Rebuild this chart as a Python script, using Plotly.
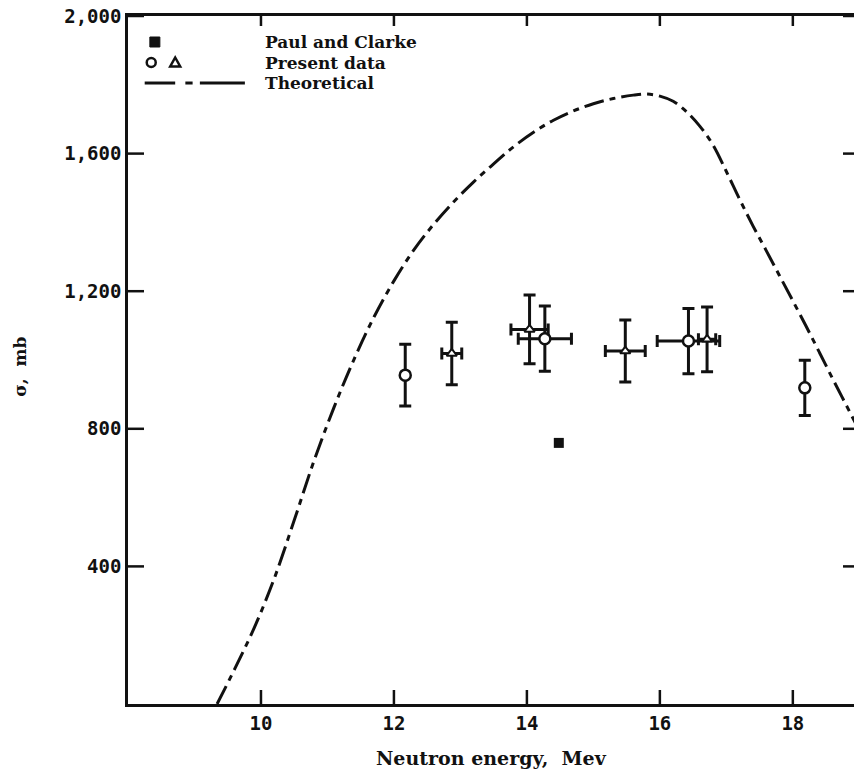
import plotly.graph_objects as go

# ---- data ----
theory_x = [9.34, 9.6, 9.9, 10.2, 10.5, 10.8, 11.1, 11.4, 11.7, 12.0, 12.3, 12.6, 12.9,
            13.2, 13.5, 13.8, 14.1, 14.4, 14.7, 15.0, 15.3, 15.6, 15.8, 16.0, 16.2, 16.4,
            16.6, 16.8, 17.0, 17.2, 17.4, 17.6, 17.8, 18.0, 18.2, 18.4, 18.6, 18.8, 19.0]
theory_y = [0, 100, 222, 365, 534, 708, 863, 1002, 1125, 1230, 1320, 1395, 1460,
            1518, 1570, 1620, 1662, 1697, 1724, 1745, 1760, 1770, 1773, 1767, 1752, 1722,
            1680, 1625, 1548, 1467, 1390, 1318, 1245, 1172, 1098, 1022, 945, 870, 795]

circle_x = [12.17, 14.27, 16.43, 18.18]
circle_y = [956, 1062, 1055, 919]
circle_yerr = [90, 95, 95, 80]
circle_xerr = [0, 0.40, 0.47, 0]

tri_x = [12.87, 14.04, 15.48, 16.71]
tri_y = [1019, 1089, 1026, 1060]
tri_yerr = [91, 100, 90, 94]
tri_xerr = [0.15, 0.28, 0.30, 0.13]

pc_x = [14.48]
pc_y = [759]

x_ticks = [10, 12, 14, 16, 18]
y_ticks = [400, 800, 1200, 1600, 2000]
y_ticktext = ["400", "800", "1,200", "1,600", "2,000"]

legend_labels = ["Paul and Clarke", "Present data", "Theoretical"]

FONT = "DejaVu Serif"
TICKFONT = "DejaVu Sans Mono"
BLACK = "#111111"

fig = go.Figure()

fig.add_trace(go.Scatter(
    x=theory_x, y=theory_y, mode="lines",
    line=dict(color=BLACK, width=3, dash="20px,6px,6px,6px", shape="spline", smoothing=1.0),
    showlegend=False, hoverinfo="skip"))

fig.add_trace(go.Scatter(
    x=circle_x, y=circle_y, mode="markers",
    marker=dict(symbol="circle", size=11, color="white", line=dict(color=BLACK, width=2.5)),
    error_y=dict(type="data", array=circle_yerr, color=BLACK, thickness=3, width=6),
    error_x=dict(type="data", array=circle_xerr, color=BLACK, thickness=3, width=6),
    showlegend=False))

fig.add_trace(go.Scatter(
    x=tri_x, y=tri_y, mode="markers",
    marker=dict(symbol="triangle-up", size=9, color="white", line=dict(color=BLACK, width=2)),
    error_y=dict(type="data", array=tri_yerr, color=BLACK, thickness=3, width=6),
    error_x=dict(type="data", array=tri_xerr, color=BLACK, thickness=3, width=6),
    showlegend=False))

fig.add_trace(go.Scatter(
    x=pc_x, y=pc_y, mode="markers",
    marker=dict(symbol="square", size=10, color=BLACK),
    showlegend=False))

tickfont = dict(family=TICKFONT, size=19, color=BLACK, weight="bold")

fig.update_layout(
    width=854, height=775,
    margin=dict(l=128, r=0, t=16, b=71),
    paper_bgcolor="white", plot_bgcolor="white",
    showlegend=False,
    xaxis=dict(range=[8, 18.92], tickmode="array", tickvals=x_ticks, ticks="",
               showline=True, linewidth=2.5, linecolor=BLACK, mirror=True,
               showgrid=False, zeroline=False, tickfont=tickfont),
    yaxis=dict(range=[0, 2000], tickmode="array", tickvals=y_ticks, ticktext=y_ticktext,
               ticks="", showline=True, linewidth=2.5, linecolor=BLACK, mirror=False,
               showgrid=False, zeroline=False, tickfont=tickfont),
)

# inward tick marks, placed at the axis tick values
for v in x_ticks:
    fig.add_shape(type="line", xref="x", yref="paper", ysizemode="pixel", yanchor=0,
                  x0=v, x1=v, y0=0, y1=14, line=dict(color=BLACK, width=2.5))
    fig.add_shape(type="line", xref="x", yref="paper", ysizemode="pixel", yanchor=1,
                  x0=v, x1=v, y0=0, y1=-10, line=dict(color=BLACK, width=2.5))
for v in y_ticks:
    fig.add_shape(type="line", xref="paper", yref="y", xsizemode="pixel", xanchor=0,
                  x0=0, x1=16, y0=v, y1=v, line=dict(color=BLACK, width=2.5))
    fig.add_shape(type="line", xref="paper", yref="y", xsizemode="pixel", xanchor=1,
                  x0=-11, x1=0, y0=v, y1=v, line=dict(color=BLACK, width=2.5))

# axis titles
fig.add_annotation(text="Neutron energy,  Mev", xref="paper", yref="paper", x=0.5, y=-0.078,
                   xanchor="center", yanchor="middle", showarrow=False,
                   font=dict(family=FONT, size=19, color=BLACK, weight="bold"))
fig.add_annotation(text="σ,  mb", xref="paper", yref="paper", x=-0.149, y=0.49,
                   xanchor="center", yanchor="middle", textangle=-90, showarrow=False,
                   font=dict(family=FONT, size=17, color=BLACK, weight="bold"))

# legend (drawn manually, paper coordinates)
leg_y = [0.9622, 0.9324, 0.9026]
for lab, yy in zip(legend_labels, leg_y):
    fig.add_annotation(text=lab, xref="paper", yref="paper", x=0.186, y=yy,
                       xanchor="left", yanchor="middle", showarrow=False,
                       font=dict(family=FONT, size=17, color=BLACK, weight="bold"))

fig.add_shape(type="rect", xref="paper", yref="paper", xsizemode="pixel", ysizemode="pixel",
              xanchor=0.037, yanchor=leg_y[0], x0=-5, x1=5, y0=-5, y1=5,
              fillcolor=BLACK, line=dict(color=BLACK, width=1))
fig.add_shape(type="circle", xref="paper", yref="paper", xsizemode="pixel", ysizemode="pixel",
              xanchor=0.032, yanchor=leg_y[1], x0=-4.5, x1=4.5, y0=-4.5, y1=4.5,
              fillcolor="white", line=dict(color=BLACK, width=2.5))
fig.add_shape(type="path", xref="paper", yref="paper", xsizemode="pixel", ysizemode="pixel",
              xanchor=0.065, yanchor=leg_y[1], path="M -5,-4 L 5,-4 L 0,5 Z",
              fillcolor="white", line=dict(color=BLACK, width=2.5))
for a, b in [(0.023, 0.065), (0.079, 0.089), (0.099, 0.161)]:
    fig.add_shape(type="line", xref="paper", yref="paper", x0=a, x1=b, y0=leg_y[2], y1=leg_y[2],
                  line=dict(color=BLACK, width=3))

fig.write_html("out.html")
